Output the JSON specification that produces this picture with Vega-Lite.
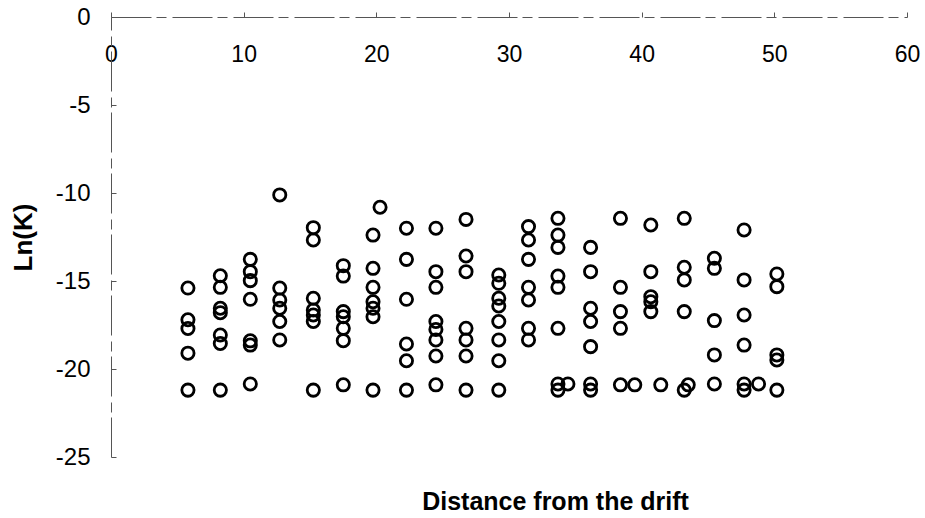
{
  "$schema": "https://vega.github.io/schema/vega-lite/v6.json",
  "width": 796,
  "height": 440,
  "autosize": "none",
  "padding": {"left": 111, "top": 17, "right": 18, "bottom": 61},
  "background": "white",
  "config": {
    "font": "Liberation Sans",
    "view": {"stroke": null}
  },
  "data": {
    "values": [
      {"d": 5.8, "lnk": -15.4}, {"d": 5.8, "lnk": -17.2}, {"d": 5.8, "lnk": -17.7}, {"d": 5.8, "lnk": -19.1}, {"d": 5.8, "lnk": -21.2},
      {"d": 8.24, "lnk": -14.7}, {"d": 8.24, "lnk": -15.36}, {"d": 8.24, "lnk": -16.55}, {"d": 8.24, "lnk": -16.8}, {"d": 8.24, "lnk": -18.07}, {"d": 8.24, "lnk": -18.55}, {"d": 8.24, "lnk": -21.2},
      {"d": 10.5, "lnk": -13.77}, {"d": 10.5, "lnk": -14.47}, {"d": 10.5, "lnk": -14.98}, {"d": 10.5, "lnk": -16.04}, {"d": 10.5, "lnk": -18.4}, {"d": 10.5, "lnk": -18.64}, {"d": 10.5, "lnk": -20.85},
      {"d": 12.72, "lnk": -10.11}, {"d": 12.72, "lnk": -15.4}, {"d": 12.72, "lnk": -16.08}, {"d": 12.72, "lnk": -16.55}, {"d": 12.72, "lnk": -17.3}, {"d": 12.72, "lnk": -18.35},
      {"d": 15.25, "lnk": -11.97}, {"d": 15.25, "lnk": -12.67}, {"d": 15.25, "lnk": -15.98}, {"d": 15.25, "lnk": -16.65}, {"d": 15.25, "lnk": -16.93}, {"d": 15.25, "lnk": -17.3}, {"d": 15.25, "lnk": -21.2},
      {"d": 17.51, "lnk": -14.13}, {"d": 17.51, "lnk": -14.72}, {"d": 17.51, "lnk": -16.74}, {"d": 17.51, "lnk": -17.03}, {"d": 17.51, "lnk": -17.69}, {"d": 17.51, "lnk": -18.39}, {"d": 17.51, "lnk": -20.9},
      {"d": 19.75, "lnk": -12.39}, {"d": 19.75, "lnk": -14.28}, {"d": 19.75, "lnk": -15.36}, {"d": 19.75, "lnk": -16.18}, {"d": 19.75, "lnk": -16.55}, {"d": 19.75, "lnk": -17.03}, {"d": 19.75, "lnk": -21.2},
      {"d": 20.28, "lnk": -10.81},
      {"d": 22.27, "lnk": -12.0}, {"d": 22.27, "lnk": -13.77}, {"d": 22.27, "lnk": -16.04}, {"d": 22.27, "lnk": -18.58}, {"d": 22.27, "lnk": -19.53}, {"d": 22.27, "lnk": -21.2},
      {"d": 24.49, "lnk": -12.0}, {"d": 24.49, "lnk": -14.47}, {"d": 24.49, "lnk": -15.36}, {"d": 24.49, "lnk": -17.3}, {"d": 24.49, "lnk": -17.75}, {"d": 24.49, "lnk": -18.35}, {"d": 24.49, "lnk": -19.26}, {"d": 24.49, "lnk": -20.9},
      {"d": 26.76, "lnk": -11.5}, {"d": 26.76, "lnk": -13.58}, {"d": 26.76, "lnk": -14.47}, {"d": 26.76, "lnk": -17.69}, {"d": 26.76, "lnk": -18.35}, {"d": 26.76, "lnk": -19.26}, {"d": 26.76, "lnk": -21.2},
      {"d": 29.23, "lnk": -14.66}, {"d": 29.23, "lnk": -15.13}, {"d": 29.23, "lnk": -15.98}, {"d": 29.23, "lnk": -16.42}, {"d": 29.23, "lnk": -17.3}, {"d": 29.23, "lnk": -18.35}, {"d": 29.23, "lnk": -19.53}, {"d": 29.23, "lnk": -21.2},
      {"d": 31.47, "lnk": -11.91}, {"d": 31.47, "lnk": -12.67}, {"d": 31.47, "lnk": -13.77}, {"d": 31.47, "lnk": -15.36}, {"d": 31.47, "lnk": -16.08}, {"d": 31.47, "lnk": -17.69}, {"d": 31.47, "lnk": -18.35},
      {"d": 33.69, "lnk": -11.44}, {"d": 33.69, "lnk": -12.39}, {"d": 33.69, "lnk": -13.09}, {"d": 33.69, "lnk": -14.72}, {"d": 33.69, "lnk": -15.36}, {"d": 33.69, "lnk": -17.69}, {"d": 33.69, "lnk": -20.85}, {"d": 33.69, "lnk": -21.2},
      {"d": 34.44, "lnk": -20.85},
      {"d": 36.15, "lnk": -13.09}, {"d": 36.15, "lnk": -14.47}, {"d": 36.15, "lnk": -16.55}, {"d": 36.15, "lnk": -17.3}, {"d": 36.15, "lnk": -18.73}, {"d": 36.15, "lnk": -20.85}, {"d": 36.15, "lnk": -21.2},
      {"d": 38.4, "lnk": -11.44}, {"d": 38.4, "lnk": -15.36}, {"d": 38.4, "lnk": -16.74}, {"d": 38.4, "lnk": -17.69}, {"d": 38.4, "lnk": -20.9},
      {"d": 39.48, "lnk": -20.9},
      {"d": 40.69, "lnk": -11.82}, {"d": 40.69, "lnk": -14.47}, {"d": 40.69, "lnk": -15.89}, {"d": 40.69, "lnk": -16.18}, {"d": 40.69, "lnk": -16.74},
      {"d": 41.44, "lnk": -20.9},
      {"d": 43.21, "lnk": -11.44}, {"d": 43.21, "lnk": -14.22}, {"d": 43.21, "lnk": -14.94}, {"d": 43.21, "lnk": -16.74}, {"d": 43.21, "lnk": -21.2},
      {"d": 43.51, "lnk": -20.9},
      {"d": 45.48, "lnk": -13.71}, {"d": 45.48, "lnk": -14.28}, {"d": 45.48, "lnk": -17.25}, {"d": 45.48, "lnk": -19.2}, {"d": 45.48, "lnk": -20.85},
      {"d": 47.72, "lnk": -12.1}, {"d": 47.72, "lnk": -14.94}, {"d": 47.72, "lnk": -16.93}, {"d": 47.72, "lnk": -18.64}, {"d": 47.72, "lnk": -20.85}, {"d": 47.72, "lnk": -21.2},
      {"d": 48.81, "lnk": -20.85},
      {"d": 50.19, "lnk": -14.6}, {"d": 50.19, "lnk": -15.32}, {"d": 50.19, "lnk": -19.2}, {"d": 50.19, "lnk": -19.49}, {"d": 50.19, "lnk": -21.2}
    ]
  },
  "mark": {"type": "point", "shape": "circle", "filled": false, "size": 150, "strokeWidth": 2.8, "color": "black", "opacity": 1},
  "encoding": {
    "x": {
      "field": "d", "type": "quantitative",
      "scale": {"domain": [0, 60], "nice": false, "zero": false},
      "axis": {
        "orient": "bottom", "offset": -440, "values": [0, 10, 20, 30, 40, 50, 60],
        "grid": false, "labelExpr": "toString(datum.value)", "labelFlush": false, "labelOverlap": false,
        "domainColor": "#555", "domainWidth": 1, "domainDash": [40, 5, 10, 6],
        "tickColor": "#555", "tickSize": -5, "tickWidth": 1,
        "labelFontSize": 23, "labelColor": "black", "labelPadding": 31, "labelBaseline": "top",
        "title": "Distance from the drift", "titleFontSize": 25, "titleFontWeight": "bold", "titleColor": "black",
        "titleX": 444, "titleY": 492, "titleAlign": "center", "titleBaseline": "alphabetic"
      }
    },
    "y": {
      "field": "lnk", "type": "quantitative",
      "scale": {"domain": [-25, 0], "nice": false, "zero": false},
      "axis": {
        "values": [0, -5, -10, -15, -20, -25], "grid": false, "labelExpr": "toString(datum.value)", "labelFlush": false, "labelOverlap": false,
        "domainColor": "#555", "domainWidth": 1, "domainDash": [40, 5, 10, 6],
        "tickColor": "#555", "tickSize": -5, "tickWidth": 1,
        "labelFontSize": 24, "labelColor": "black", "labelPadding": 26,
        "title": "Ln(K)", "titleFontSize": 26, "titleFontWeight": "bold", "titleColor": "black",
        "titleX": -88, "titleY": 220, "titleAngle": -90, "titleAlign": "center", "titleBaseline": "middle"
      }
    }
  }
}
